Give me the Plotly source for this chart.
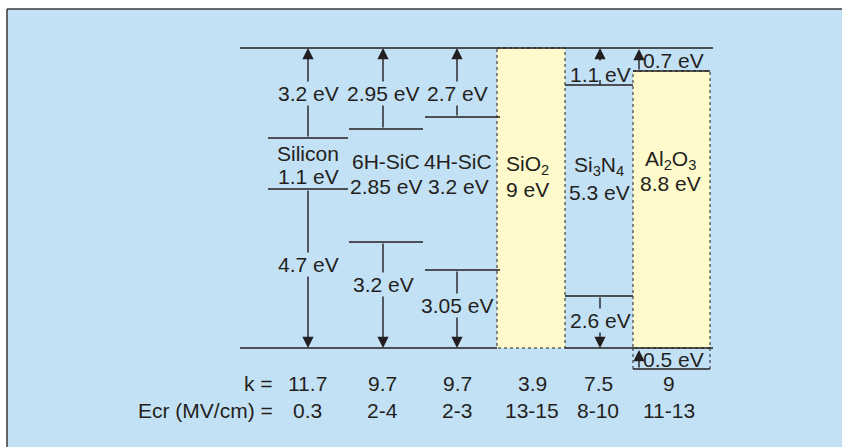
import plotly.graph_objects as go

# ---------------- data ----------------
materials = ["Silicon", "6H-SiC", "4H-SiC", "SiO<sub>2</sub>", "Si<sub>3</sub>N<sub>4</sub>", "Al<sub>2</sub>O<sub>3</sub>"]
band_gaps = ["1.1 eV", "2.85 eV", "3.2 eV", "9 eV", "5.3 eV", "8.8 eV"]
cb_offsets = ["3.2 eV", "2.95 eV", "2.7 eV", None, "1.1 eV", "0.7 eV"]   # to SiO2 conduction band
vb_offsets = ["4.7 eV", "3.2 eV", "3.05 eV", None, "2.6 eV", "0.5 eV"]   # to SiO2 valence band
k_values = ["11.7", "9.7", "9.7", "3.9", "7.5", "9"]
ecr_values = ["0.3", "2-4", "2-3", "13-15", "8-10", "11-13"]
row_labels = ["k =", "Ecr (MV/cm) ="]

# ---------------- schematic layout (diagram units) ----------------
W, H = 842, 447
BLUE = "#C3E1F5"
YELLOW = "#FFFACC"
INK = "#231F20"
FONT = "Liberation Sans, Arial, sans-serif"
FS = 21

ref_top, ref_bot = 48, 348          # SiO2 CB / VB
ref_x0, ref_x1 = 240, 713
col_x = [308, 383, 457, 531, 600, 639]      # arrow / column centres
lvl_x = [(268, 348), (349, 423), (425, 500), (497, 565), (565, 633), (633, 710)]
cb_y = [138, 129, 117, ref_top, 85, 71]
vb_y = [189, 242, 270, ref_bot, 296, 369]
name_y = [153, 161, 161, 165, 166, 160]
gap_y = [176, 186, 186, 189, 192, 183]
name_x = [308, 386, 458, 527, 599, 670]
cb_lab_y = [93, 93, 93, None, 74, 60]
vb_lab_y = [264, 284, 305, None, 320, 359]
row_y = [383, 410]
row_x = [307, 382, 457, 532, 598, 669]

shapes = []
ann = []

def line(x0, y0, x1, y1, dash=None, width=1.6, color=INK):
    shapes.append(dict(type="line", xref="x", yref="y", x0=x0, y0=y0, x1=x1, y1=y1,
                       line=dict(color=color, width=width, dash=dash)))

def arrow(x, y_tail, y_head):
    ann.append(dict(x=x, y=y_head, ax=x, ay=y_tail, xref="x", yref="y", axref="x", ayref="y",
                    text="", showarrow=True, arrowhead=2, arrowsize=1.6, arrowwidth=1.4,
                    arrowcolor=INK, standoff=0, startstandoff=0))

def label(x, y, text, bg=None, xanchor="center"):
    d = dict(x=x, y=y, xref="x", yref="y", text=text, showarrow=False, xanchor=xanchor,
             yanchor="middle", font=dict(family=FONT, size=FS, color=INK), borderpad=0)
    if bg:
        d["bgcolor"] = bg
    ann.append(d)

# frame / background panel (open to the right and bottom, as cropped in the figure)
shapes.append(dict(type="rect", xref="x", yref="y", x0=7, y0=9, x1=W, y1=H,
                   fillcolor=BLUE, line=dict(width=0)))
line(7, 9, W, 9, width=1.5, color="#3a3a3a")
line(7, 9, 7, H, width=1.5, color="#3a3a3a")

# insulator boxes
shapes.append(dict(type="rect", xref="x", yref="y", x0=lvl_x[3][0], y0=ref_top, x1=lvl_x[3][1], y1=ref_bot,
                   fillcolor=YELLOW, line=dict(color=INK, width=1, dash="dot")))
shapes.append(dict(type="rect", xref="x", yref="y", x0=lvl_x[5][0], y0=cb_y[5], x1=lvl_x[5][1], y1=ref_bot,
                   fillcolor=YELLOW, line=dict(color=INK, width=1, dash="dot")))
line(lvl_x[5][0], ref_bot, lvl_x[5][0], vb_y[5], dash="dot", width=1)
line(lvl_x[5][1], ref_bot, lvl_x[5][1], vb_y[5], dash="dot", width=1)

# SiO2 reference band edges
line(ref_x0, ref_top, ref_x1, ref_top)
line(ref_x0, ref_bot, lvl_x[3][0], ref_bot)
line(lvl_x[3][1], ref_bot, ref_x1, ref_bot)

# band edges of the other materials
for i in [0, 1, 2, 4, 5]:
    line(lvl_x[i][0], cb_y[i], lvl_x[i][1], cb_y[i])
    line(lvl_x[i][0], vb_y[i], lvl_x[i][1], vb_y[i])

# offset arrows and labels
for i in [0, 1, 2]:
    arrow(col_x[i], cb_y[i], ref_top)
    label(col_x[i], cb_lab_y[i], cb_offsets[i], bg=BLUE)
    arrow(col_x[i], vb_y[i], ref_bot)
    label(col_x[i], vb_lab_y[i], vb_offsets[i], bg=BLUE)

# Si3N4
arrow(col_x[4], 62, ref_top)
line(col_x[4], cb_y[4], col_x[4], cb_y[4] - 5, width=1.4)
label(col_x[4], cb_lab_y[4], cb_offsets[4])
arrow(col_x[4], vb_y[4], ref_bot)
label(col_x[4], vb_lab_y[4], vb_offsets[4], bg=BLUE)

# Al2O3
arrow(col_x[5], cb_y[5], ref_top + 1)
label(col_x[5] + 3, cb_lab_y[5], cb_offsets[5], xanchor="left")
arrow(col_x[5], vb_y[5], ref_bot + 2)
label(col_x[5] + 3, vb_lab_y[5], vb_offsets[5], xanchor="left")

# material names and band gaps
for i in range(6):
    label(name_x[i], name_y[i], materials[i])
    label(name_x[i], gap_y[i], band_gaps[i])

# property rows
label(274, row_y[0], row_labels[0], xanchor="right")
label(274, row_y[1], row_labels[1], xanchor="right")
for i in range(6):
    label(row_x[i], row_y[0], k_values[i])
    label(row_x[i], row_y[1], ecr_values[i])

fig = go.Figure()
fig.update_layout(
    width=W, height=H, margin=dict(l=0, r=0, t=0, b=0),
    paper_bgcolor="white", plot_bgcolor="white",
    xaxis=dict(range=[0, W], visible=False, fixedrange=True),
    yaxis=dict(range=[H, 0], visible=False, fixedrange=True),
    shapes=shapes, annotations=ann, showlegend=False,
)
fig.write_html(
    "out.html", config={"displayModeBar": False},
    post_script=("document.documentElement.style.overflow='hidden';"
                 "document.body.style.margin='0';document.body.style.overflow='hidden';"),
)
